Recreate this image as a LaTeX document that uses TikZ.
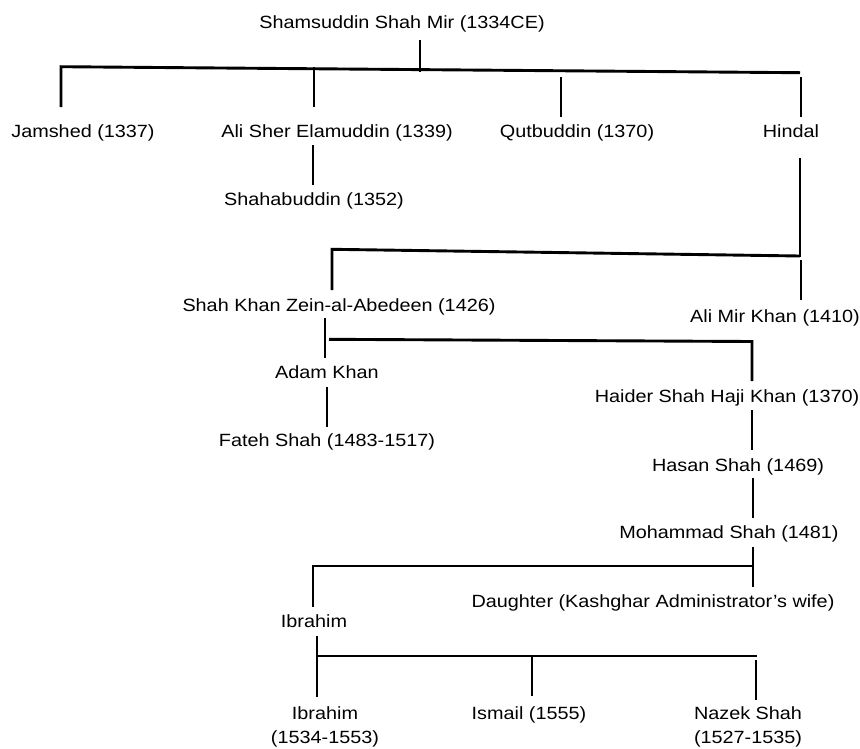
\documentclass[tikz,border=0pt]{standalone}
\usepackage{fontspec}
\setmainfont[FakeStretch=1.12]{Liberation Sans}
\begin{document}
\begin{tikzpicture}[x=1pt,y=-1pt,
  person/.style={anchor=base, inner sep=0pt, font=\fontsize{17.7}{24}\selectfont, align=center, text=black},
  link/.style={draw=black, line width=2.9pt}]
\useasboundingbox[fill=white] (0,0) rectangle (860,748);
% people
\node[person] (root)   at (402,28)  {Shamsuddin Shah Mir (1334CE)};
\node[person] (jam)    at (83,137.5) {Jamshed (1337)};
\node[person] (ali)    at (337,137.5) {Ali Sher Elamuddin (1339)};
\node[person] (qut)    at (577,137.5) {Qutbuddin (1370)};
\node[person] (hin)    at (791,137.5) {Hindal};
\node[person] (shb)    at (314,205) {Shahabuddin (1352)};
\node[person] (zein)   at (339,311) {Shah Khan Zein-al-Abedeen (1426)};
\node[person] (alimir) at (775,322) {Ali Mir Khan (1410)};
\node[person] (adam)   at (327,378) {Adam Khan};
\node[person] (haider) at (727,402) {Haider Shah Haji Khan (1370)};
\node[person] (fateh)  at (327,446) {Fateh Shah (1483-1517)};
\node[person] (hasan)  at (738,471) {Hasan Shah (1469)};
\node[person] (moh)    at (729,538) {Mohammad Shah (1481)};
\node[person] (dau)    at (653,607) {Daughter (Kashghar Administrator’s wife)};
\node[person] (ibr)    at (314,627) {Ibrahim};
\node[person] (ibrb)   at (325,743) {Ibrahim\\(1534-1553)};
\node[person] (ism)    at (529,719) {Ismail (1555)};
\node[person] (naz)    at (748,743) {Nazek Shah\\(1527-1535)};
% junction points
\coordinate (r1) at (420,40);   \coordinate (r2) at (420,72);
\coordinate (b1L) at (61,66.7); \coordinate (b1R) at (800,72.7);
\coordinate (jamT) at (61,107);
\coordinate (aliB) at (314,67); \coordinate (aliT) at (314,107);
\coordinate (qutB) at (561,77); \coordinate (qutT) at (561,117);
\coordinate (hinB) at (801,77); \coordinate (hinT) at (801,117);
\coordinate (aliS1) at (313,145); \coordinate (aliS2) at (313,185);
\coordinate (hinS1) at (800,158); \coordinate (hinS2) at (800,257);
\coordinate (b2L) at (332,249.3); \coordinate (b2R) at (800,256);
\coordinate (zeinT) at (332,290);
\coordinate (amB) at (801,260); \coordinate (amT) at (801,300);
\coordinate (zS1) at (325,318); \coordinate (zS2) at (325,358);
\coordinate (b3L) at (329,339.3); \coordinate (b3R) at (752,341.5);
\coordinate (haiT) at (752,381);
\coordinate (adS1) at (327,387); \coordinate (adS2) at (327,427);
\coordinate (haS1) at (752,410); \coordinate (haS2) at (752,450);
\coordinate (hsS1) at (753,478); \coordinate (hsS2) at (753,518);
\coordinate (mS1) at (753,547); \coordinate (mS2) at (753,587);
\coordinate (b4L) at (313,566); \coordinate (b4R) at (753,566);
\coordinate (ibT) at (313,607);
\coordinate (iS1) at (317,636); \coordinate (iS2) at (317,697);
\coordinate (b5L) at (317,656); \coordinate (b5R) at (757,656);
\coordinate (ismB) at (532,656); \coordinate (ismT) at (532,696);
\coordinate (nzB) at (756,660); \coordinate (nzT) at (756,700);
% connectors
\draw[link] (r1) -- (r2);
\draw[link] (jamT) -- (b1L) -- (b1R);
\draw[link] (aliB) -- (aliT);
\draw[link] (qutB) -- (qutT);
\draw[link] (hinB) -- (hinT);
\draw[link] (aliS1) -- (aliS2);
\draw[link] (hinS1) -- (hinS2);
\draw[link] (zeinT) -- (b2L) -- (b2R);
\draw[link] (amB) -- (amT);
\draw[link] (zS1) -- (zS2);
\draw[link] (b3L) -- (b3R) -- (haiT);
\draw[link] (adS1) -- (adS2);
\draw[link] (haS1) -- (haS2);
\draw[link] (hsS1) -- (hsS2);
\draw[link] (mS1) -- (mS2);
\draw[link] (ibT) -- (b4L) -- (b4R);
\draw[link] (iS1) -- (iS2);
\draw[link] (b5L) -- (b5R);
\draw[link] (ismB) -- (ismT);
\draw[link] (nzB) -- (nzT);
\end{tikzpicture}
\end{document}
